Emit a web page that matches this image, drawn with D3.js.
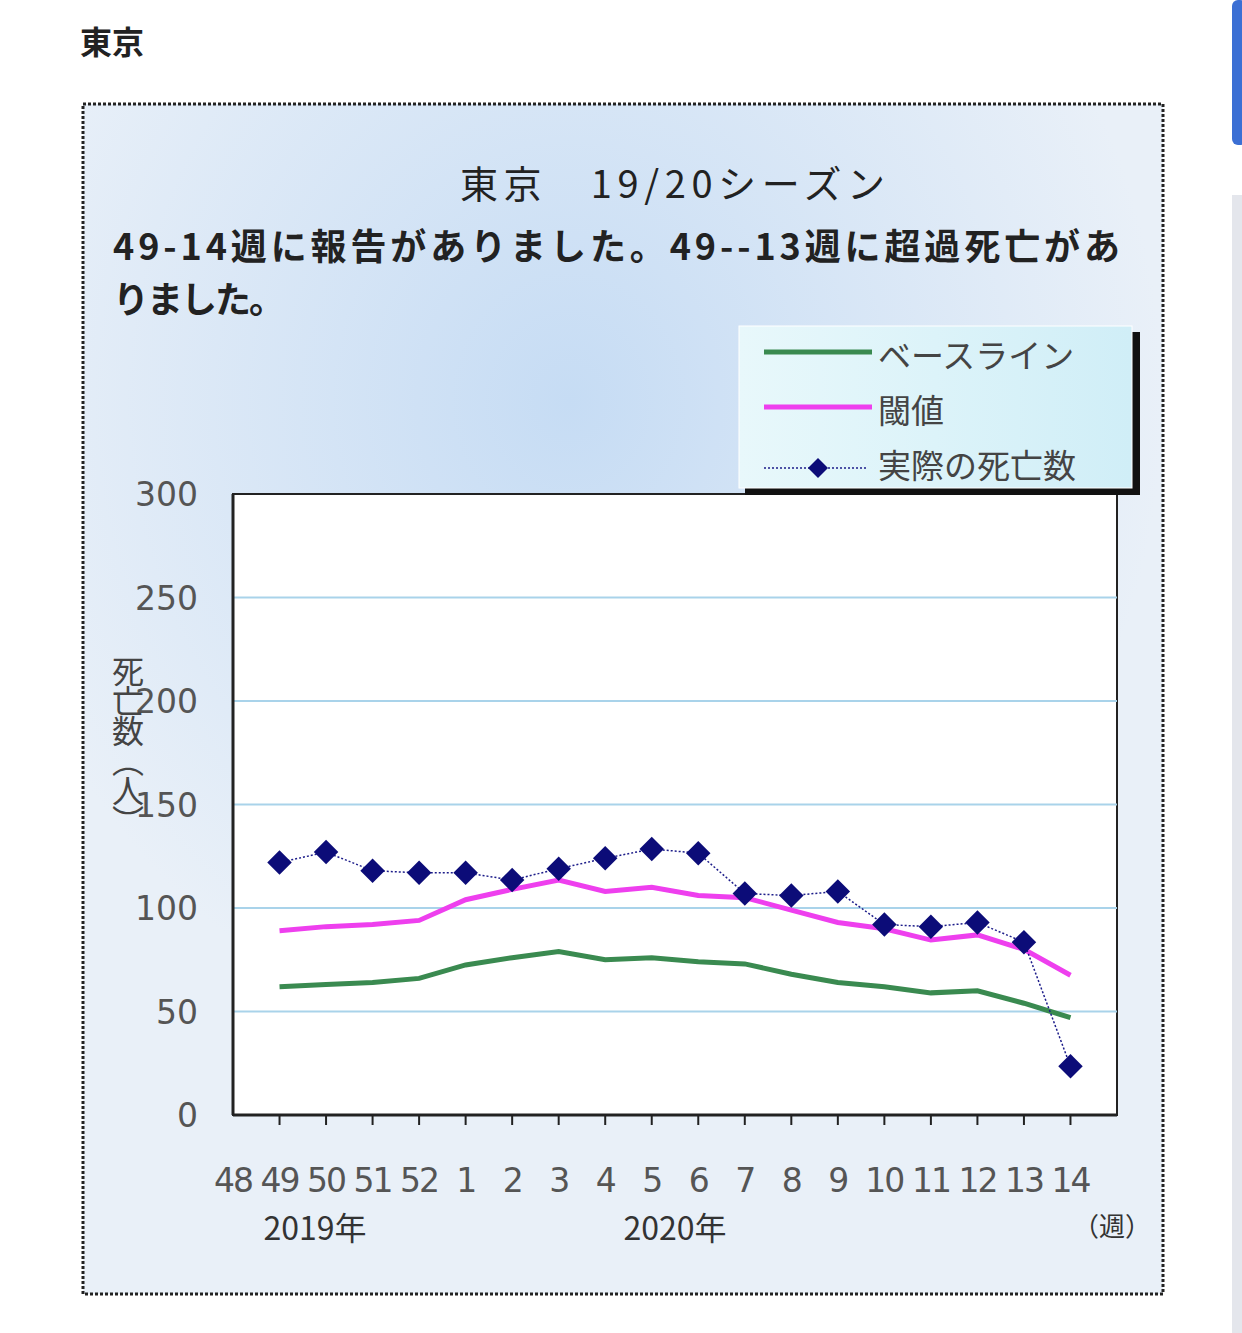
<!DOCTYPE html>
<html><head><meta charset="utf-8">
<script src="https://cdn.jsdelivr.net/npm/d3@7"></script>
<style>body{margin:0;background:#fff;font-family:"Noto Sans CJK JP",sans-serif}</style>
</head><body>
<svg id="c" width="1242" height="1333"></svg>
<script>
const weeks = ["48","49","50","51","52","1","2","3","4","5","6","7","8","9","10","11","12","13","14"];
const dataWeeks = ["49","50","51","52","1","2","3","4","5","6","7","8","9","10","11","12","13","14"];
const baseline = [62,63,64,66,72.5,76,79,75,76,74,73,68,64,62,59,60,54,47];
const threshold = [89,91,92,94,104,109,113.5,108,110,106,105,99,93,90,84.5,87,80,67.5];
const actual = [122,127,118,117,117,113.5,119,124,128.5,126.5,107,106,108,92,91,93,83.5,23.5];
const yTicks = [0,50,100,150,200,250,300];
const legendLabels = ["ベースライン","閾値","実際の死亡数"];

const svg = d3.select("#c");
const defs = svg.append("defs");
const g1 = defs.append("radialGradient").attr("id","bg").attr("cx","0.45").attr("cy","0.25").attr("r","0.55");
g1.append("stop").attr("offset","0").attr("stop-color","#c6dcf4");
g1.append("stop").attr("offset","1").attr("stop-color","#e9f0f8");
const g2 = defs.append("linearGradient").attr("id","lg").attr("x1","0").attr("x2","1");
g2.append("stop").attr("offset","0").attr("stop-color","#e8f8fb");
g2.append("stop").attr("offset","1").attr("stop-color","#d0eef7");

svg.append("text").attr("x",80).attr("y",54).attr("font-size",32).attr("font-weight","bold").attr("fill","#222").text("東京");
svg.append("rect").attr("x",1232).attr("y",0).attr("width",14).attr("height",145).attr("rx",6).attr("fill","#3b6fd4");
svg.append("rect").attr("x",1232).attr("y",195).attr("width",10).attr("height",1138).attr("fill","#e4e6ec");

svg.append("rect").attr("x",83).attr("y",104).attr("width",1080).attr("height",1190)
  .attr("fill","url(#bg)").attr("stroke","#222").attr("stroke-width",3).attr("stroke-dasharray","3,2");

svg.append("text").attr("x",460).attr("y",198).attr("font-size",38).attr("fill","#222").attr("textLength",425).text("東京　19/20シーズン");
svg.append("text").attr("x",113).attr("y",260).attr("font-size",36).attr("font-weight","bold").attr("fill","#222").attr("textLength",1007).text("49-14週に報告がありました。49--13週に超過死亡があ");
svg.append("text").attr("x",113).attr("y",313).attr("font-size",36).attr("font-weight","bold").attr("fill","#222").attr("textLength",172).text("りました。");

const L=233,R=1117,T=494,B=1115;
const x = d3.scalePoint().domain(weeks.concat(["_"])).range([L,R]);
const y = d3.scaleLinear().domain([0,300]).range([B,T]);

svg.append("rect").attr("x",L).attr("y",T).attr("width",R-L).attr("height",B-T).attr("fill","#fff").attr("stroke","#222").attr("stroke-width",2);
svg.append("g").selectAll("line").data(yTicks.filter(d=>d>0&&d<300)).join("line")
  .attr("x1",L).attr("x2",R).attr("y1",d=>y(d)).attr("y2",d=>y(d)).attr("stroke","#a9d3ea").attr("stroke-width",2);
svg.append("line").attr("x1",L).attr("x2",R).attr("y1",B).attr("y2",B).attr("stroke","#222").attr("stroke-width",3);
svg.append("line").attr("x1",L).attr("x2",L).attr("y1",T).attr("y2",B).attr("stroke","#222").attr("stroke-width",3);
svg.append("g").selectAll("line").data(dataWeeks).join("line")
  .attr("x1",d=>x(d)).attr("x2",d=>x(d)).attr("y1",B).attr("y2",B+10).attr("stroke","#222").attr("stroke-width",2);

svg.append("g").selectAll("text").data(yTicks).join("text")
  .attr("x",198).attr("y",d=>y(d)+12).attr("text-anchor","end").attr("font-size",33).attr("fill","#555")
  .attr("font-family","DejaVu Sans").text(d=>d);
svg.append("g").selectAll("text").data(weeks).join("text")
  .attr("x",d=>x(d)).attr("y",1192).attr("text-anchor","middle").attr("font-size",33).attr("fill","#555")
  .attr("font-family","DejaVu Sans").attr("letter-spacing",-2).text(d=>d);
svg.append("text").attr("x",315).attr("y",1240).attr("text-anchor","middle").attr("font-size",32).attr("fill","#333").text("2019年");
svg.append("text").attr("x",675).attr("y",1240).attr("text-anchor","middle").attr("font-size",32).attr("fill","#333").text("2020年");
svg.append("text").attr("x",1112).attr("y",1236).attr("text-anchor","middle").attr("font-size",26).attr("fill","#333").text("（週）");
svg.append("text").attr("transform","translate(128,655)").attr("writing-mode","tb").attr("font-size",32).attr("fill","#444").attr("letter-spacing",-2).text("死亡数（人）");

const line = d3.line().x((d,i)=>x(dataWeeks[i])).y(d=>y(d));
svg.append("path").attr("d",line(baseline)).attr("fill","none").attr("stroke","#3a8a50").attr("stroke-width",5);
svg.append("path").attr("d",line(threshold)).attr("fill","none").attr("stroke","#ee3fee").attr("stroke-width",5);
svg.append("path").attr("d",line(actual)).attr("fill","none").attr("stroke","#1d1d8a").attr("stroke-width",1.5).attr("stroke-dasharray","2,2");
const sym = d3.symbol().type(d3.symbolSquare).size(300);
svg.append("g").selectAll("path").data(actual).join("path")
  .attr("transform",(d,i)=>`translate(${x(dataWeeks[i])},${y(d)}) rotate(45)`).attr("d",sym).attr("fill","#0c0c78");

// legend
svg.append("rect").attr("x",745).attr("y",332).attr("width",395).attr("height",163).attr("fill","#111");
svg.append("rect").attr("x",739).attr("y",326).attr("width",393).attr("height",162).attr("fill","url(#lg)").attr("stroke","#fff");
const cols=["#3a8a50","#ee3fee","#1d1d8a"];
legendLabels.forEach((t,i)=>{
  const yy=352+i*55;
  if(i<2) svg.append("line").attr("x1",764).attr("x2",872).attr("y1",yy).attr("y2",yy).attr("stroke",cols[i]).attr("stroke-width",5);
  else {
    svg.append("line").attr("x1",764).attr("x2",866).attr("y1",yy+6).attr("y2",yy+6).attr("stroke",cols[i]).attr("stroke-width",1.5).attr("stroke-dasharray","2,2");
    svg.append("path").attr("transform",`translate(818,${yy+6}) rotate(45)`).attr("d",d3.symbol().type(d3.symbolSquare).size(200)).attr("fill","#0c0c78");
  }
  svg.append("text").attr("x",878).attr("y",yy+16).attr("font-size",33).attr("fill","#444").text(t);
});
</script></body></html>
